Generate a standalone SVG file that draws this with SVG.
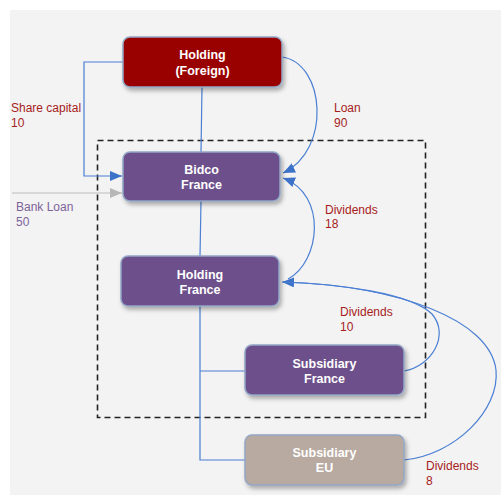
<svg xmlns="http://www.w3.org/2000/svg" width="501" height="495" viewBox="0 0 501 495">
<defs>
<filter id="sh" x="-10%" y="-20%" width="125%" height="150%">
<feDropShadow dx="2" dy="3" stdDeviation="2" flood-color="#000" flood-opacity="0.3"/>
</filter>
<marker id="ab" markerWidth="12" markerHeight="10" refX="12" refY="5" orient="auto" markerUnits="userSpaceOnUse">
<path d="M0,0 L12,5 L0,10 z" fill="#3d72c9"/>
</marker>
<marker id="ag" markerWidth="12" markerHeight="10" refX="12" refY="5" orient="auto" markerUnits="userSpaceOnUse">
<path d="M0,0 L12,5 L0,10 z" fill="#b7b7b7"/>
</marker>
</defs>
<style>
.node rect{stroke:#93a7c6;stroke-width:1.5;filter:url(#sh)}
.nt{font-family:"Liberation Sans",Arial,sans-serif;font-size:12.5px;font-weight:bold;fill:#fff;text-anchor:middle}
.lb{font-family:"Liberation Sans",Arial,sans-serif;font-size:12px;fill:#a61c1c}
.lbp{font-family:"Liberation Sans",Arial,sans-serif;font-size:12px;fill:#7d639b}
.c{fill:none;stroke:#4a7fd4;stroke-width:1.2}
</style>
<rect x="0" y="0" width="501" height="495" fill="#fff"/>
<rect x="10" y="10" width="491" height="485" fill="#f3f3f3"/>
<rect x="97.5" y="140.5" width="328" height="277" fill="none" stroke="#222" stroke-width="1.6" stroke-dasharray="6,4"/>
<g id="connectors">
<path class="c" d="M123,62 H84 V176 H122" marker-end="url(#ab)"/>
<path d="M12,193 H122" fill="none" stroke="#bdbdbd" stroke-width="1.2" marker-end="url(#ag)"/>
<path class="c" d="M202,87 L201,152"/>
<path class="c" d="M201,201 L200,256"/>
<path class="c" d="M200,306 V460 H245 M200,371 H245"/>
<path class="c" d="M282,57 C325,63 332,150 283,173" marker-end="url(#ab)"/>
<path class="c" d="M288,279 C320,262 328,195 283,178" marker-end="url(#ab)"/>
<path class="c" d="M404,371 C432,366 450,335 432,314 C410,293 340,284 282,282" marker-end="url(#ab)"/>
<path class="c" d="M404,460 C455,455 500,410 496,370 C490,320 400,286 283,282"/>
</g>
<g id="holding-foreign" class="node">
<rect x="123" y="37" width="159" height="50" rx="7" fill="#990000"/>
<text class="nt" x="202.5" y="59">Holding</text>
<text class="nt" x="202.5" y="75">(Foreign)</text>
</g>
<g id="bidco-france" class="node">
<rect x="123" y="152" width="157" height="49" rx="7" fill="#6d4f8b"/>
<text class="nt" x="201.5" y="174">Bidco</text>
<text class="nt" x="201.5" y="189">France</text>
</g>
<g id="holding-france" class="node">
<rect x="121" y="256" width="158" height="50" rx="7" fill="#6d4f8b"/>
<text class="nt" x="200" y="279">Holding</text>
<text class="nt" x="200" y="294">France</text>
</g>
<g id="subsidiary-france" class="node">
<rect x="245" y="345" width="159" height="50" rx="7" fill="#6d4f8b"/>
<text class="nt" x="324.5" y="368">Subsidiary</text>
<text class="nt" x="324.5" y="383">France</text>
</g>
<g id="subsidiary-eu" class="node">
<rect x="245" y="435" width="159" height="50" rx="7" fill="#b8aaa0"/>
<text class="nt" x="324.5" y="457">Subsidiary</text>
<text class="nt" x="324.5" y="472">EU</text>
</g>
<g id="labels">
<text class="lb" x="11" y="112">Share capital</text>
<text class="lb" x="11" y="127">10</text>
<text class="lb" x="334" y="112">Loan</text>
<text class="lb" x="334" y="127">90</text>
<text class="lbp" x="16" y="211">Bank Loan</text>
<text class="lbp" x="16" y="226">50</text>
<text class="lb" x="325" y="214">Dividends</text>
<text class="lb" x="325" y="228">18</text>
<text class="lb" x="340" y="316">Dividends</text>
<text class="lb" x="340" y="331">10</text>
<text class="lb" x="426" y="470">Dividends</text>
<text class="lb" x="426" y="485">8</text>
</g>
</svg>
